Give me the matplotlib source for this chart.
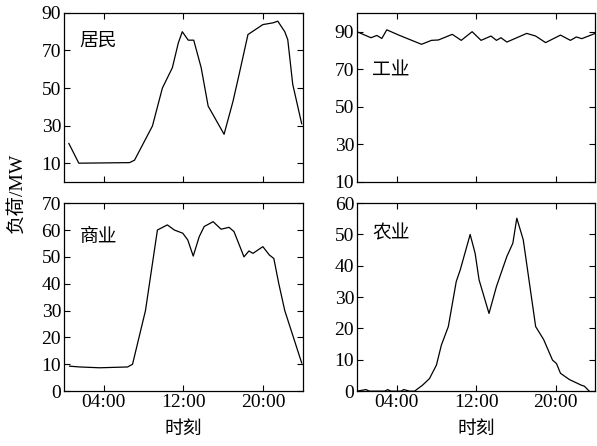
import matplotlib
matplotlib.use('Agg')
import matplotlib.pyplot as plt

# ── data (hour of day, load in MW) ─────────────────────────
res_h = [0.5, 1.5, 6.6, 7.1, 8.9, 9.9, 10.9, 11.5, 11.9, 12.5, 13.05, 13.8, 14.5,
         16.1, 17.0, 17.6, 18.5, 20.0, 21.0, 21.5, 22.2, 22.5, 23.0, 23.9]
res_v = [20.5, 10, 10.3, 11.6, 29.8, 50, 60.8, 74, 80, 75.5, 75.5, 60.8, 40.4,
         25.4, 43, 57, 78.5, 83.8, 84.7, 85.6, 80, 75.8, 52, 31]

ind_h = [0, 1.4, 2.0, 2.5, 3.0, 4.3, 6.5, 7.5, 8.2, 9.6, 10.5, 11.6, 12.5, 13.5,
         14.05, 14.5, 15.1, 17.1, 18.0, 19.0, 20.5, 21.5, 22.1, 22.65, 24]
ind_v = [90, 86.8, 88, 86.4, 91, 88, 83.3, 85.4, 85.6, 88.6, 85.4, 90, 85.4, 87.7,
         85.4, 86.8, 84.5, 89.1, 87.7, 84.2, 88.2, 85.4, 87.2, 86.3, 89.1]

com_h = [0.57, 1.6, 3.6, 6.4, 6.9, 8.2, 9.4, 10.4, 11.1, 11.95, 12.45, 13.0, 13.6,
         14.1, 15.0, 15.8, 16.6, 17.1, 18.1, 18.6, 19.0, 20.0, 20.65, 21.1, 21.6,
         22.2, 23.9]
com_v = [9.3, 9.0, 8.7, 9.0, 10, 30, 60, 61.9, 60, 58.8, 56.3, 50.3, 57.5,
         61.3, 63.1, 60.3, 61, 59.4, 50, 52.2, 51.3, 53.8, 50.7, 49.4, 40,
         30, 10.5]

agr_h = [0, 0.9, 1.25, 2.8, 3.1, 3.4, 4.45, 4.7, 5.3, 5.8, 6.6, 7.3, 8.0, 8.5, 9.2,
         10.0, 10.4, 11.4, 11.9, 12.3, 13.3, 14.05, 15.1, 15.7, 16.1, 16.75, 18.0,
         18.8, 19.7, 20.1, 20.5, 21.4, 22.6, 22.9, 23.4]
agr_v = [0, 0.5, 0, 0, 0.5, 0, 0, 0.5, 0, 0, 1.9, 4, 8.3, 14.7, 20.6,
         35, 38.7, 50, 44, 35.5, 24.8, 33.4, 43, 47.2, 55.2, 48.3, 20.6,
         16.5, 9.9, 8.8, 5.7, 3.7, 1.9, 1.6, 0]

x_ticks = [4, 12, 20]
x_labels = ['04:00', '12:00', '20:00']

panels = [
    ('居民', res_h, res_v, (0, 90), [10, 30, 50, 70, 90], (0.065, 0.84)),
    ('工业', ind_h, ind_v, (10, 100), [10, 30, 50, 70, 90], (0.065, 0.66)),
    ('商业', com_h, com_v, (0, 70), list(range(0, 71, 10)), (0.065, 0.82)),
    ('农业', agr_h, agr_v, (0, 60), list(range(0, 61, 10)), (0.065, 0.84)),
]

serif = ['Liberation Serif', 'DejaVu Serif']
cjk = ['Noto Sans CJK SC', 'DejaVu Sans']
mixed = ['Liberation Serif', 'Noto Sans CJK SC']

fig = plt.figure(figsize=(5.97, 4.46), dpi=100)
rects = [
    [0.107, 0.592, 0.400, 0.379],
    [0.598, 0.592, 0.399, 0.379],
    [0.107, 0.123, 0.400, 0.4215],
    [0.598, 0.123, 0.399, 0.4215],
]

for i, (name, h, v, ylim, yt, pos) in enumerate(panels):
    ax = fig.add_axes(rects[i])
    ax.plot(h, v, color='black', linewidth=0.9)
    ax.set_xlim(0, 24)
    ax.set_ylim(*ylim)
    ax.set_xticks(x_ticks)
    ax.set_yticks(yt)
    ax.tick_params(direction='in', length=4.5, width=0.8, top=True, right=True,
                   labelsize=14, pad=2)
    for lab in ax.get_yticklabels() + ax.get_xticklabels():
        lab.set_family(serif)
    if i < 2:
        ax.set_xticklabels([])
    else:
        ax.set_xticklabels(x_labels, family=serif)
        ax.set_xlabel('时刻', family=cjk, fontsize=13.5, labelpad=5)
    for s in ax.spines.values():
        s.set_linewidth(0.9)
    ax.text(pos[0], pos[1], name, transform=ax.transAxes, family=cjk,
            fontsize=13.5, va='center', ha='left')

fig.text(0.029, 0.567, '负荷/MW', rotation=90, ha='center', va='center',
         family=mixed, fontsize=14)

plt.savefig('out.png', dpi=100)
